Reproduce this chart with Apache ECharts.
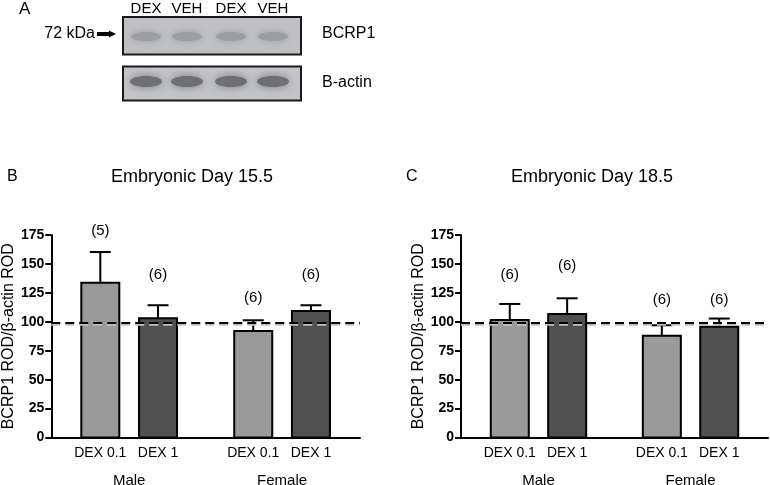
<!DOCTYPE html>
<html>
<head>
<meta charset="utf-8">
<script src="https://cdn.jsdelivr.net/npm/echarts@6/dist/echarts.min.js"></script>
<style>
  html, body { margin: 0; padding: 0; background: #fff; }
  #chart { width: 770px; height: 485px; }
</style>
</head>
<body>
<div id="chart"></div>
<script>
// data
const doseLabels = ['DEX 0.1', 'DEX 1', 'DEX 0.1', 'DEX 1'];
const sexLabels = ['Male', 'Female'];
const yTicks = [0, 25, 50, 75, 100, 125, 150, 175];
const vehicleLevel = 99; // dashed reference line (vehicle = 100%)

// E15.5
const e155Mean = [133.7, 103, 92, 109.3];
const e155Sem = [26.6, 11.3, 9.3, 5];
const e155N = ['(5)', '(6)', '(6)', '(6)'];
const e155NAt = [178.7, 140.4, 120.3, 140.4];

// E18.5
const e185Mean = [101.6, 106.7, 88, 95.8];
const e185Sem = [13.8, 13.6, 9, 7];
const e185N = ['(6)', '(6)', '(6)', '(6)'];
const e185NAt = [140.4, 148.2, 118.8, 118.8];

// western blot lanes (panel A)
const laneLabels = ['DEX', 'VEH', 'DEX', 'VEH'];

const FONT = '"Liberation Sans", Arial, sans-serif';
const slots = [1.7, 3.7, 7.0, 9.0];   // bar positions on the hidden x scale
const fills = ['#9a9a9a', '#505050', '#9a9a9a', '#505050'];

function barRenderer(nLabels) {
  return function (params, api) {
    const i = params.dataIndex;
    const x = api.value(0);
    const base = api.coord([x, 0]);
    const top = api.coord([x, api.value(1)]);
    const cap = api.coord([x, api.value(1) + api.value(2)]);
    const lab = api.coord([x, api.value(3)]);
    const w = 38;
    const kids = [
      { type: 'line', shape: { x1: top[0], y1: top[1], x2: cap[0], y2: cap[1] },
        style: { stroke: '#000', lineWidth: 2 } },
      { type: 'line', shape: { x1: cap[0] - 10.5, y1: cap[1], x2: cap[0] + 10.5, y2: cap[1] },
        style: { stroke: '#000', lineWidth: 2 } },
      { type: 'rect', shape: { x: base[0] - w / 2, y: top[1], width: w, height: base[1] - top[1] },
        style: { fill: fills[i], stroke: '#000', lineWidth: 2 } },
      { type: 'text', x: lab[0], y: lab[1],
        style: { text: nLabels[i], fill: '#000', font: '15px ' + FONT, align: 'center', verticalAlign: 'middle' } },
      { type: 'text', x: base[0], y: base[1] + 16,
        style: { text: doseLabels[i], fill: '#000', font: '14px ' + FONT, align: 'center', verticalAlign: 'middle' } }
    ];
    if (i % 2 === 0) {
      const mid = api.coord([(slots[i] + slots[i + 1]) / 2, 0]);
      kids.push({ type: 'text', x: mid[0], y: base[1] + 43,
        style: { text: sexLabels[i / 2], fill: '#000', font: '15px ' + FONT, align: 'center', verticalAlign: 'middle' } });
    }
    return { type: 'group', children: kids };
  };
}

function refLine(idx) {
  return {
    type: 'line', xAxisIndex: idx, yAxisIndex: idx, data: [], z: 5,
    markLine: {
      silent: true, symbol: 'none', label: { show: false },
      data: [
        { yAxis: vehicleLevel - 1.3, lineStyle: { color: '#c0c0c0', type: [9, 5], width: 2.5 } },
        { yAxis: vehicleLevel, lineStyle: { color: '#000', type: [9, 5], width: 2 } }
      ]
    }
  };
}

function yAxisOpt(idx) {
  return {
    gridIndex: idx, type: 'value', min: yTicks[0], max: yTicks[yTicks.length - 1], interval: 25,
    name: 'BCRP1 ROD/β-actin ROD', nameLocation: 'middle', nameGap: 32,
    nameTextStyle: { fontFamily: FONT, fontSize: 16, color: '#000' },
    axisLine: { show: true, lineStyle: { color: '#000', width: 2 } },
    axisTick: { show: true, length: 6, lineStyle: { color: '#000', width: 2 } },
    axisLabel: { fontFamily: FONT, fontSize: 14, fontWeight: 'bold', color: '#000', margin: 7 },
    splitLine: { show: false }
  };
}

function xAxisOpt(idx) {
  return {
    gridIndex: idx, type: 'value', min: 0, max: 10.7,
    axisLine: { show: true, onZero: false, lineStyle: { color: '#000', width: 2 } },
    axisTick: { show: false }, axisLabel: { show: false }, splitLine: { show: false }
  };
}

const lanesX = [146, 187, 231, 273];
const blot = [];
function txt(text, x, y, size, align) {
  return { type: 'text', x: x, y: y,
    style: { text: text, fill: '#000', font: size + 'px ' + FONT, align: align || 'left', verticalAlign: 'middle' } };
}
blot.push(txt('A', 19, 9, 17));
laneLabels.forEach((t, i) => blot.push(txt(t, lanesX[i], 9, 15, 'center')));
blot.push(txt('72 kDa', 95, 34, 16, 'right'));
blot.push({ type: 'polygon', shape: { points: [[97, 32], [109, 32], [109, 30.5], [116, 34], [109, 37.5], [109, 36], [97, 36]] },
  style: { fill: '#000' } });
blot.push({ type: 'rect', shape: { x: 123, y: 17, width: 178, height: 37.5 },
  style: { fill: '#bfc0c4', stroke: '#1a1a1a', lineWidth: 2 } });
blot.push({ type: 'rect', shape: { x: 123, y: 66.5, width: 178, height: 34 },
  style: { fill: '#c3c4c8', stroke: '#1a1a1a', lineWidth: 2 } });
lanesX.forEach(x => {
  blot.push({ type: 'ellipse', shape: { cx: x, cy: 36.5, rx: 15, ry: 4.5 },
    style: { fill: '#9d9ea3', shadowBlur: 7, shadowColor: '#9d9ea3' } });
  blot.push({ type: 'ellipse', shape: { cx: x, cy: 81.5, rx: 16, ry: 5.5 },
    style: { fill: '#6f7075', shadowBlur: 8, shadowColor: '#7a7b80' } });
});
blot.push(txt('BCRP1', 322, 34, 16));
blot.push(txt('B-actin', 322, 83, 16));
blot.push(txt('B', 7, 177, 16));
blot.push(txt('Embryonic Day 15.5', 192, 177, 18, 'center'));
blot.push(txt('C', 406, 177, 16));
blot.push(txt('Embryonic Day 18.5', 592, 177, 18, 'center'));

const chart = echarts.init(document.getElementById('chart'));
chart.setOption({
  animation: false,
  backgroundColor: '#fff',
  graphic: blot,
  grid: [
    { left: 50, width: 310, top: 235, height: 202.5 },
    { left: 461, width: 307, top: 235, height: 202.5 }
  ],
  xAxis: [xAxisOpt(0), xAxisOpt(1)],
  yAxis: [yAxisOpt(0), yAxisOpt(1)],
  series: [
    { type: 'custom', xAxisIndex: 0, yAxisIndex: 0, clip: false, z: 2,
      renderItem: barRenderer(e155N),
      data: e155Mean.map((m, i) => [slots[i], m, e155Sem[i], e155NAt[i]]) },
    { type: 'custom', xAxisIndex: 1, yAxisIndex: 1, clip: false, z: 2,
      renderItem: barRenderer(e185N),
      data: e185Mean.map((m, i) => [slots[i], m, e185Sem[i], e185NAt[i]]) },
    refLine(0),
    refLine(1)
  ]
});
</script>
</body>
</html>
